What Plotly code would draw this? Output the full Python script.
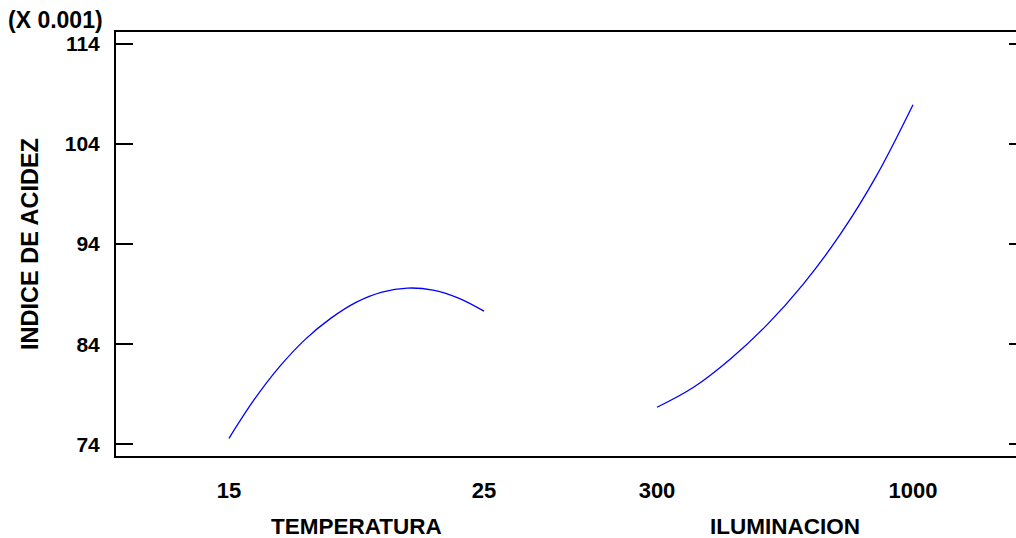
import plotly.graph_objects as go

# Data (Y in units of 0.001)
temp_x = [15, 16, 17, 18, 19, 20, 21, 22, 23, 24, 25]
temp_y = [74.6, 78.5, 81.8, 84.5, 86.6, 88.2, 89.2, 89.6, 89.4, 88.6, 87.3]
ilum_x = [300, 400, 500, 600, 700, 800, 900, 1000]
ilum_y = [77.7, 79.7, 82.5, 85.9, 90.0, 94.9, 100.8, 107.9]
y_ticks = [74, 84, 94, 104, 114]
temp_ticks = [15, 25]
ilum_ticks = [300, 1000]

FONT = "Liberation Sans, Arial, sans-serif"
W, H = 1016, 538
L, R, T, B = 116, 0, 32, 82
plot_w = W - L - R
plot_h = H - T - B
split_px = 570
d1 = (split_px - L) / plot_w

# pixel scales
t_px = (484 - 229) / (25 - 15)
i_px = (913 - 657) / (1000 - 300)
t_range = [15 - (229 - L) / t_px, 25 + (split_px - 484) / t_px]
i_range = [300 - (657 - split_px) / i_px, 1000 + (W - R - 913) / i_px]
y_px = (444.3 - 43.7) / (114 - 74)
y_range = [74 - (T + plot_h - 444.3) / y_px, 114 + (43.7 - T) / y_px]

fig = go.Figure()
fig.add_trace(go.Scatter(x=temp_x, y=temp_y, mode="lines", line=dict(color="#0000ff", width=1.3, shape="spline"),
                         xaxis="x", yaxis="y", showlegend=False, hoverinfo="skip"))
fig.add_trace(go.Scatter(x=ilum_x, y=ilum_y, mode="lines", line=dict(color="#0000ff", width=1.3, shape="spline"),
                         xaxis="x2", yaxis="y", showlegend=False, hoverinfo="skip"))
fig.add_trace(go.Scatter(x=[None], y=[None], mode="lines", xaxis="x2", yaxis="y2",
                         showlegend=False, hoverinfo="skip"))

tickfont = dict(family=FONT, size=21, color="black")
xtickfont = dict(family=FONT, size=22, color="black")

fig.update_layout(
    width=W, height=H,
    margin=dict(l=L, r=R, t=T, b=B),
    paper_bgcolor="white", plot_bgcolor="white",
    font=dict(family=FONT, color="black"),
    xaxis=dict(domain=[0, d1], range=t_range, tickvals=temp_ticks, ticktext=[str(v) for v in temp_ticks],
               showgrid=False, zeroline=False, showline=True, linecolor="black", linewidth=2, mirror=True,
               ticks="", tickfont=xtickfont, ticklabelstandoff=14, anchor="y"),
    xaxis2=dict(domain=[d1, 1], range=i_range, tickvals=ilum_ticks, ticktext=[str(v) for v in ilum_ticks],
                showgrid=False, zeroline=False, showline=True, linecolor="black", linewidth=2, mirror=True,
                ticks="", tickfont=xtickfont, ticklabelstandoff=14, anchor="y"),
    yaxis=dict(range=y_range, tickvals=y_ticks, ticktext=[str(v) for v in y_ticks],
               showgrid=False, zeroline=False, showline=True, linecolor="black", linewidth=2,
               ticks="inside", ticklen=17, tickwidth=1.5, tickcolor="black", tickfont=tickfont,
               ticklabelstandoff=10, anchor="x"),
    yaxis2=dict(range=y_range, tickvals=y_ticks, showticklabels=False, overlaying="y", side="right",
                anchor="x2", showgrid=False, zeroline=False, showline=False,
                ticks="inside", ticklen=7, tickwidth=1.5, tickcolor="black"),
    annotations=[
        dict(text="<b>(X 0.001)</b>", xref="paper", yref="paper", x=(7 - L) / plot_w, y=1 + (T - 20) / plot_h,
             xanchor="left", yanchor="middle", showarrow=False, borderpad=0,
             font=dict(family=FONT, size=23, color="black")),
        dict(text="<b>INDICE DE ACIDEZ</b>", xref="paper", yref="paper", x=(30 - L) / plot_w, y=0.5,
             textangle=-90, xanchor="center", yanchor="middle", showarrow=False,
             font=dict(family=FONT, size=23.5, color="black")),
        dict(text="<b>TEMPERATURA</b>", xref="x", yref="paper", x=(temp_ticks[0] + temp_ticks[1]) / 2,
             y=-(526 - (T + plot_h)) / plot_h, xanchor="center", yanchor="middle", showarrow=False,
             borderpad=0, font=dict(family=FONT, size=22.5, color="black")),
        dict(text="<b>ILUMINACION</b>", xref="x2", yref="paper", x=(ilum_ticks[0] + ilum_ticks[1]) / 2,
             y=-(526 - (T + plot_h)) / plot_h, xanchor="center", yanchor="middle", showarrow=False,
             borderpad=0, font=dict(family=FONT, size=22.5, color="black")),
    ],
)
fig.update_xaxes(tickfont_weight="bold")
fig.update_yaxes(tickfont_weight="bold")

fig.write_html("out.html")
